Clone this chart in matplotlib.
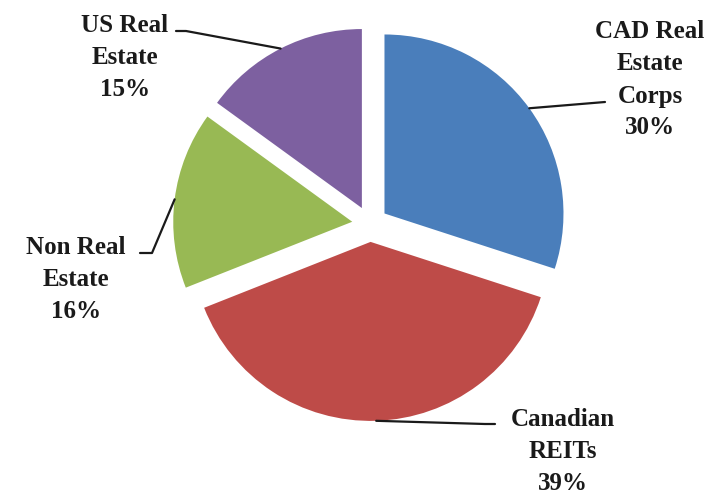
import numpy as np
import matplotlib.pyplot as plt

categories = ["CAD Real\nEstate\nCorps", "Canadian\nREITs", "Non Real\nEstate", "US Real\nEstate"]
shares = [30, 39, 16, 15]
colors = ["#4A7EBB", "#BE4B48", "#98B954", "#7D60A0"]

# pixel layout helpers (image is 722x497, pie centre ~ (370, 224), radius ~179 px)
CX, CY, R = 370, 224, 179


def px(x, y):
    return (x - CX) / R, (CY - y) / R


fig = plt.figure(figsize=(7.22, 4.97), dpi=100)
ax = fig.add_axes([0, 0, 1, 1])

wedges, _ = ax.pie(shares, colors=colors, startangle=90, counterclock=False,
                   explode=[0.1] * len(shares), radius=1.0,
                   wedgeprops=dict(linewidth=0))

ax.set_aspect('auto')
ax.set_xlim(px(0, 0)[0], px(722, 0)[0])
ax.set_ylim(px(0, 497)[1], px(0, 0)[1])
ax.axis('off')

# label block centres and leader-line elbows (pixels)
label_pos = [(650, 80), (563, 451), (76, 280), (125, 57)]
elbows = [[(605, 102)],
          [(485, 424), (495, 424)],
          [(152, 253), (140, 253)],
          [(186, 31), (176, 31)]]

for w, name, val, (lx, ly), elb in zip(wedges, categories, shares, label_pos, elbows):
    mid = np.deg2rad((w.theta1 + w.theta2) / 2)
    ax0 = w.center[0] + w.r * np.cos(mid)
    ay0 = w.center[1] + w.r * np.sin(mid)
    pts = [(ax0, ay0)] + [px(*p) for p in elb]
    xs, ys = zip(*pts)
    ax.plot(xs, ys, color="#1a1a1a", lw=1.6, solid_capstyle='round')
    tx, ty = px(lx, ly)
    ax.text(tx, ty, f"{name}\n{val}%", ha='center', va='center',
            fontsize=18, fontweight='bold', family='Liberation Serif',
            color="#1a1a1a", linespacing=1.5)

fig.savefig("out.png", dpi=100)
